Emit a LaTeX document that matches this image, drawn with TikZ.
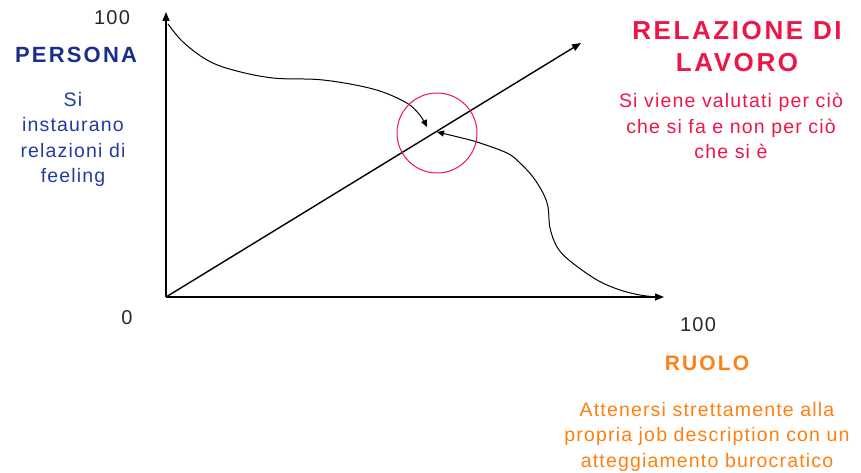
\documentclass[tikz,border=0pt]{standalone}
\usepackage{fontspec}
\setmainfont{Liberation Sans}
\newfontfamily\bodyf[LetterSpace=6]{Liberation Sans}
\newfontfamily\titf[LetterSpace=10]{Liberation Sans}
\usetikzlibrary{arrows.meta}
\definecolor{pblue}{RGB}{26,46,140}
\definecolor{pblue2}{RGB}{36,60,160}
\definecolor{pred}{RGB}{238,22,72}
\definecolor{porange}{RGB}{255,128,16}
\definecolor{numgray}{RGB}{40,40,40}
\tikzset{
  axis/.style={line width=1.4pt, -{Triangle[length=9pt,width=7pt]}},
  crv/.style={line width=1pt, -{Triangle[length=7pt,width=6pt]}},
  numtxt/.style={font=\bodyf\fontsize{20}{24}\selectfont, text=numgray, inner sep=0pt},
  bodytxt/.style={font=\bodyf\fontsize{19.5}{25.5}\selectfont, align=center, inner sep=0pt, anchor=north},
  titletxt/.style={font=\titf\bfseries\fontsize{21}{26}\selectfont, inner sep=0pt},
}
\begin{document}
\begin{tikzpicture}[x=1pt,y=-1pt]
\useasboundingbox[fill=white] (0,0) rectangle (861,473);
\coordinate (O) at (166,297);
\coordinate (Y) at (166,12);
\coordinate (X) at (664,297);
\coordinate (D) at (581,43);
\draw[axis] (O) -- (Y);
\draw[axis] (O) -- (X);
\draw[axis] (O) -- (D);
\coordinate (c1s) at (168,24);
\coordinate (c1e) at (427,127);
\coordinate (c2s) at (656,297);
\coordinate (c2e) at (437,132);
\draw[crv] plot[smooth, tension=0.6] coordinates {(c1s) (183,42) (207,60) (233,70) (273,78) (323,80) (373,89) (405,102) (419,114) (c1e)};
\draw[crv] plot[smooth, tension=0.55] coordinates {(c2s) (640,295) (620,290) (597,280) (570,261) (557,247) (550,228) (548,207) (543,193) (533,177) (520,163) (507,153) (477,142) (458,137) (c2e)};
\node[circle, draw=pred, line width=1pt, minimum size=80pt, inner sep=0pt] (focus) at (437,133) {};
\node[numtxt] (n100y) at (112,18) {100};
\node[numtxt] (n0) at (127,318) {0};
\node[numtxt] (n100x) at (698,325) {100};
\node[titletxt, text=pblue, font=\titf\bfseries\fontsize{22}{26}\selectfont] (persona) at (76,55) {PERSONA};
\node[bodytxt, text=pblue2] (personatxt) at (73,92) {Si\\instaurano\\relazioni di\\feeling};
\node[titletxt, text=pred, font=\titf\bfseries\fontsize{26}{32}\selectfont, align=center, anchor=north] (lavoro) at (737,21) {RELAZIONE DI\\LAVORO};
\node[bodytxt, text=pred] (lavorotxt) at (731,93) {Si viene valutati per ciò\\che si fa e non per ciò\\che si è};
\node[titletxt, text=porange] (ruolo) at (707,363) {RUOLO};
\node[bodytxt, text=porange] (ruolotxt) at (707,402) {Attenersi strettamente alla\\propria job description con un\\atteggiamento burocratico};
\end{tikzpicture}
\end{document}
